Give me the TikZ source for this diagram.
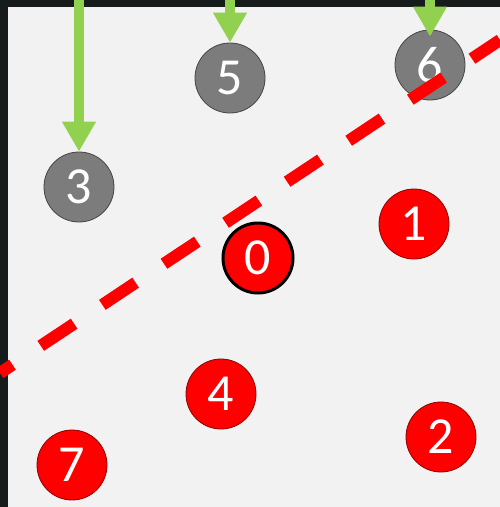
\documentclass[tikz,border=0pt]{standalone}
\usepackage{fontspec}
\newfontfamily\numfont{Carlito}
\usetikzlibrary{arrows.meta}
\colorlet{ballred}{red}
\definecolor{ballgray}{RGB}{124,124,124}
\definecolor{pushgreen}{RGB}{146,208,80}
\definecolor{panelgray}{RGB}{242,242,242}
\definecolor{framedark}{RGB}{22,28,28}
\tikzset{
  ball/.style={circle,minimum size=70pt,inner sep=0pt,draw=#1!55!black,
    line width=0.8pt,fill=#1,text=white,font=\numfont\fontsize{52}{52}\selectfont},
  push/.style={pushgreen,line width=10pt,-{Triangle[width=32pt,length=30pt]}},
  split/.style={ballred,line width=12pt,dash pattern=on 40pt off 34pt,dash phase=25pt}
}

\begin{document}
\begin{tikzpicture}[x=1pt,y=-1pt]
  \useasboundingbox (0,0) rectangle (500,507);
  \clip (0,0) rectangle (500,507);
  \fill[framedark] (0,0) rectangle (500,507);
  \fill[panelgray] (8,7) rectangle (500,507);
  % grey balls above the line
  \node[ball=ballgray] (b3) at (79,187) {3};
  \node[ball=ballgray] (b5) at (230,78) {5};
  \node[ball=ballgray] (b6) at (430,65) {6};
  % red balls below the line
  \node[ball=ballred] (b1) at (414,224) {1};
  \node[ball=ballred] (b4) at (221,394) {4};
  \node[ball=ballred] (b7) at (72,465) {7};
  \node[ball=ballred] (b2) at (441,437) {2};
  \coordinate (l0) at (0,373);
  \coordinate (l1) at (500,40);
  \draw[split] (l0) -- (l1);
  \node[ball=ballred,draw=black,line width=3pt] (b0) at (258,258) {0};
  % arrows coming in from the top
  \coordinate (t3) at (79,0);
  \coordinate (t5) at (230,0);
  \coordinate (t6) at (430,0);
  \draw[push] (t3) -- (b3.north);
  \draw[push] (t5) -- (b5.north);
  \draw[push] (t6) -- ([yshift=-7pt]b6.north);
\end{tikzpicture}
\end{document}
